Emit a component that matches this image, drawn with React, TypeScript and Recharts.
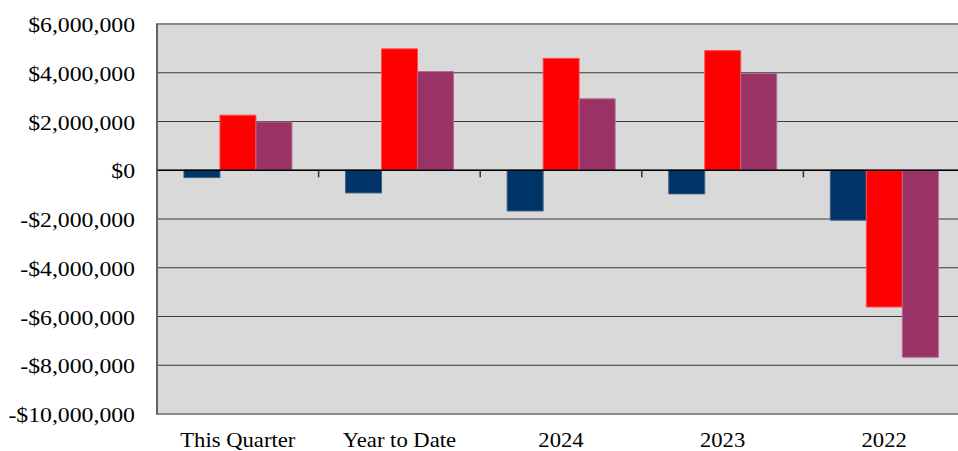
import React from "react";
import {
  BarChart,
  Bar,
  XAxis,
  YAxis,
  CartesianGrid,
  ReferenceLine,
  ReferenceArea,
} from "recharts";

const categories = ["This Quarter", "Year to Date", "2024", "2023", "2022"];
const navyValues = [-300000, -930000, -1670000, -970000, -2050000];
const redValues = [2260000, 4980000, 4590000, 4910000, -5610000];
const purpleValues = [1980000, 4050000, 2930000, 3970000, -7670000];
const yTicks = [6000000, 4000000, 2000000, 0, -2000000, -4000000, -6000000, -8000000, -10000000];

const data = categories.map((name, i) => ({
  name,
  navy: navyValues[i],
  red: redValues[i],
  purple: purpleValues[i],
}));

const FONT = "'Liberation Serif', 'Times New Roman', serif";

function formatMoney(v: number) {
  const s = "$" + Math.abs(v).toLocaleString("en-US");
  return v < 0 ? "-" + s : s;
}

function YTick(props: any) {
  const { x, y, payload } = props;
  return (
    <g transform={`translate(${x - 20}, ${y + 8}) scale(1.08, 1)`}>
      <text x={0} y={0} textAnchor="end" fontFamily={FONT} fontSize={22} fill="#000">
        {formatMoney(payload.value)}
      </text>
    </g>
  );
}

function XTick(props: any) {
  const { x, y, payload } = props;
  return (
    <g transform={`translate(${x}, ${y + 30.5}) scale(1.03, 1)`}>
      <text x={0} y={0} textAnchor="middle" fontFamily={FONT} fontSize={22} fill="#000">
        {payload.value}
      </text>
    </g>
  );
}

// tick marks hanging from the zero line between categories
function ZeroTicks(props: any) {
  const vb = props.viewBox || {};
  const n = categories.length;
  const marks = [];
  for (let i = 1; i < n; i++) {
    const tx = vb.x + (vb.width * i) / n;
    marks.push(
      <line key={i} x1={tx} x2={tx} y1={vb.y} y2={vb.y + 7} stroke="#333" strokeWidth={1.5} />
    );
  }
  return <g>{marks}</g>;
}

export default function App() {
  return (
    <div
      style={{
        position: "fixed",
        left: 0,
        top: 0,
        width: 958,
        height: 451,
        overflow: "hidden",
        background: "#fff",
      }}
    >
      <BarChart
        width={965}
        height={451}
        data={data}
        margin={{ top: 24, right: 0, left: 0, bottom: 0 }}
        barCategoryGap="16.67%"
        barGap={0}
      >
        <CartesianGrid
          vertical={false}
          fill="#d9d9d9"
          fillOpacity={1}
          stroke="#3a3a3a"
          strokeWidth={1.2}
        />
        <ReferenceArea
          y1={-10000000}
          y2={6000000}
          fill="none"
          stroke="#8a8a8a"
          strokeWidth={2}
          ifOverflow="visible"
        />
        <XAxis
          dataKey="name"
          interval={0}
          axisLine={false}
          tickLine={false}
          tickSize={0}
          height={37}
          tick={<XTick />}
        />
        <YAxis
          width={157}
          domain={[-10000000, 6000000]}
          ticks={yTicks}
          interval={0}
          axisLine={{ stroke: "#555", strokeWidth: 1.5 }}
          tickLine={false}
          tickSize={0}
          tick={<YTick />}
        />
        <Bar dataKey="navy" fill="#003366" stroke="#3d6080" strokeWidth={1} isAnimationActive={false} />
        <Bar dataKey="red" fill="#ff0000" stroke="#ff4d4d" strokeWidth={1} isAnimationActive={false} />
        <Bar dataKey="purple" fill="#993366" stroke="#b56a8e" strokeWidth={1} isAnimationActive={false} />
        <ReferenceLine y={0} stroke="#000" strokeWidth={1.5} label={<ZeroTicks />} />
      </BarChart>
    </div>
  );
}
